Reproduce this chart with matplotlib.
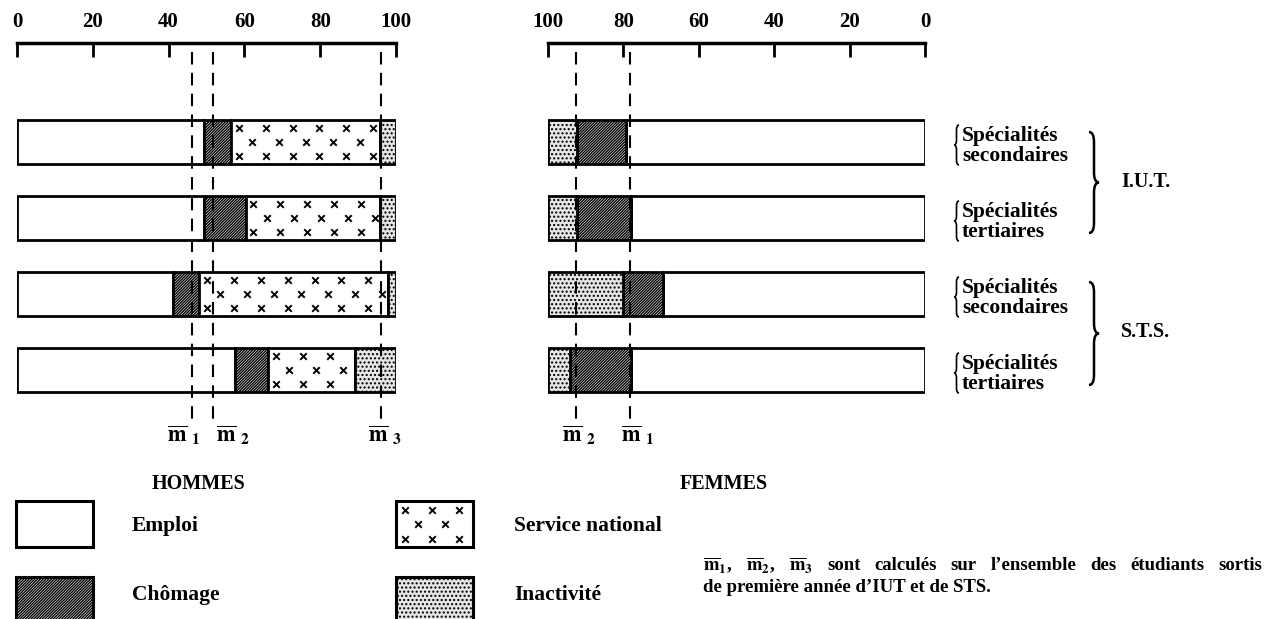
import numpy as np
import matplotlib
matplotlib.use("Agg")
import matplotlib.pyplot as plt
from matplotlib.patches import Rectangle, PathPatch
from matplotlib.path import Path

# Données (en %)
lignes = ["IUT secondaires", "IUT tertiaires", "STS secondaires", "STS tertiaires"]
h_emploi = [49.3, 49.3, 41.1, 57.5]
h_chomage = [7.2, 11.1, 7.0, 8.8]
h_service = [39.3, 35.4, 49.9, 22.9]
h_inactivite = [4.2, 4.2, 2.0, 10.8]
f_emploi = [79.4, 77.9, 69.6, 77.9]
f_chomage = [12.8, 14.3, 10.5, 16.3]
f_inactivite = [7.8, 7.8, 19.9, 5.8]
h_moyennes = [46.1, 51.8, 96.0]  # m1, m2, m3 hommes
f_moyennes = [78.3, 92.5]        # m1, m2 femmes
graduations = [0, 20, 40, 60, 80, 100]
specialites = ["Spécialités\nsecondaires", "Spécialités\ntertiaires",
               "Spécialités\nsecondaires", "Spécialités\ntertiaires"]

plt.rcParams["font.family"] = ["Liberation Serif", "DejaVu Serif"]
plt.rcParams["font.weight"] = "bold"
plt.rcParams["mathtext.fontset"] = "stix"
plt.rcParams["hatch.linewidth"] = 1.0

W, H = 1266, 619
fig = plt.figure(figsize=(W / 100, H / 100), dpi=100)

# axe de fond en pixels pour le texte, les accolades et la légende
ax_o = fig.add_axes([0, 0, 1, 1])
ax_o.set_xlim(0, W)
ax_o.set_ylim(H, 0)
ax_o.axis("off")

y = np.arange(len(lignes))
haut = 0.59
y_lim = (3.921, -1.303)
HACH = "/" * 12
POINTS = "...."


def croix(ax, patch, x0, x1, y0, pas):
    # petites croix "service national" découpées dans la barre
    xs, ys = [], []
    for k, dy in enumerate([-0.18, 0, 0.18]):
        decal = pas / 2 if k == 1 else 0
        for xx in np.arange(x0 + 2 + decal, x1, pas):
            xs.append(xx)
            ys.append(y0 + dy)
    sc = ax.scatter(xs, ys, marker="x", s=22, c="black", linewidths=1.4, zorder=3)
    sc.set_clip_path(patch)


def preparer(ax, inverse=False):
    ax.set_xlim(100, 0) if inverse else ax.set_xlim(0, 100)
    ax.set_ylim(*y_lim)
    ax.patch.set_visible(False)
    for s in ["left", "right", "bottom"]:
        ax.spines[s].set_visible(False)
    ax.spines["top"].set_linewidth(2.5)
    ax.set_xticks(graduations)
    ax.set_yticks([])
    ax.tick_params(axis="x", top=True, bottom=False, labeltop=True, labelbottom=False,
                   direction="in", length=10, width=2, pad=8, labelsize=15)


def barre(ax, gauche, largeur, style):
    kw = dict(height=haut, left=gauche, edgecolor="black", linewidth=2, zorder=2)
    if style == "chomage":
        return ax.barh(y, largeur, facecolor="white", hatch=HACH, **kw)
    if style == "inactivite":
        return ax.barh(y, largeur, facecolor="#e6e6e6", hatch=POINTS, **kw)
    return ax.barh(y, largeur, facecolor="white", **kw)


def pointilles(ax, valeurs, noms, decalages):
    ax.vlines(valeurs, -1.18, 3.72, colors="black", linestyles=(0, (6, 4)),
              linewidth=1.5, zorder=5)
    for v, n, d in zip(valeurs, noms, decalages):
        ax.annotate(r"$\overline{\mathrm{m}}\ _{%s}$" % n, (v, 3.86), xytext=(d, 0),
                    textcoords="offset points", ha="center", va="center", fontsize=16)


# HOMMES
ax_h = fig.add_axes([17 / W, 1 - 440 / H, 379 / W, 397 / H])
preparer(ax_h)
g = 0
barre(ax_h, g, h_emploi, "emploi")
g = np.array(h_emploi)
barre(ax_h, g, h_chomage, "chomage")
g = g + np.array(h_chomage)
sn = barre(ax_h, g, h_service, "service")
for i, p in enumerate(sn):
    croix(ax_h, p, g[i], g[i] + h_service[i], y[i], 7.1)
g = g + np.array(h_service)
barre(ax_h, g, h_inactivite, "inactivite")
pointilles(ax_h, h_moyennes, ["1", "2", "3"], [-6, 14, 3])

# FEMMES (axe inversé)
ax_f = fig.add_axes([548 / W, 1 - 440 / H, 377 / W, 397 / H])
preparer(ax_f, inverse=True)
barre(ax_f, 0, f_emploi, "emploi")
g = np.array(f_emploi)
barre(ax_f, g, f_chomage, "chomage")
g = g + np.array(f_chomage)
barre(ax_f, g, f_inactivite, "inactivite")
pointilles(ax_f, f_moyennes, ["1", "2"], [6, 2])

ax_o.text(199, 484, "HOMMES", ha="center", va="center", fontsize=14.5)
ax_o.text(724, 484, "FEMMES", ha="center", va="center", fontsize=14.5)


def accolade(x, y0, y1, w, lw):
    ym = (y0 + y1) / 2
    q = min(abs(w), (y1 - y0) / 6)
    verts = [(x, y0), (x + w / 2, y0), (x + w / 2, y0 + q), (x + w / 2, ym - q),
             (x + w / 2, ym), (x + w, ym), (x + w / 2, ym), (x + w / 2, ym + q),
             (x + w / 2, y1 - q), (x + w / 2, y1), (x, y1)]
    codes = [Path.MOVETO, Path.CURVE3, Path.CURVE3, Path.LINETO, Path.CURVE3, Path.CURVE3,
             Path.CURVE3, Path.CURVE3, Path.LINETO, Path.CURVE3, Path.CURVE3]
    ax_o.add_patch(PathPatch(Path(verts, codes), fill=False, lw=lw, edgecolor="black"))


# libellés à droite
centres = [142, 218, 294, 370]
for c, t in zip(centres, specialites):
    accolade(959, c - 17, c + 23, -5, 1.2)
    ax_o.text(962, c + 4, t, ha="left", va="center", fontsize=15.5, linespacing=1.05)
accolade(1089, 132, 233, 10, 1.8)
accolade(1089, 282, 385, 10, 1.8)
ax_o.text(1121, 182, "I.U.T.", ha="left", va="center", fontsize=14.5)
ax_o.text(1121, 332, "S.T.S.", ha="left", va="center", fontsize=14.5)

# légende
ax_o.add_patch(Rectangle((16, 501), 77, 46, facecolor="white", edgecolor="black", lw=2.2))
ax_o.add_patch(Rectangle((16, 577), 77, 46, facecolor="white", edgecolor="black",
                         lw=2.2, hatch=HACH))
r_sn = Rectangle((396, 501), 77, 46, facecolor="white", edgecolor="black", lw=2.2)
ax_o.add_patch(r_sn)
sc = ax_o.scatter([405, 432, 459, 418, 445, 405, 432, 459],
                  [510, 510, 510, 524, 524, 539, 539, 539],
                  marker="x", s=22, c="black", linewidths=1.4)
sc.set_clip_path(r_sn)
ax_o.add_patch(Rectangle((396, 577), 77, 46, facecolor="#e6e6e6", edgecolor="black",
                         lw=2.2, hatch=POINTS))
ax_o.text(132, 526, "Emploi", ha="left", va="center", fontsize=15.5)
ax_o.text(132, 595, "Chômage", ha="left", va="center", fontsize=15.5)
ax_o.text(514, 526, "Service national", ha="left", va="center", fontsize=15.5)
ax_o.text(514, 595, "Inactivité", ha="left", va="center", fontsize=15.5)

# note en bas à droite, première ligne justifiée
mots = [r"$\overline{\mathrm{m}}_1$,", r"$\overline{\mathrm{m}}_2$,", r"$\overline{\mathrm{m}}_3$",
        "sont", "calculés", "sur", "l’ensemble", "des", "étudiants", "sortis"]
objs = [ax_o.text(0, 566, m, ha="left", va="center", fontsize=13.5) for m in mots]
rend = fig.canvas.get_renderer()
larg = [o.get_window_extent(rend).width for o in objs]
ecart = (1262 - 703 - sum(larg)) / (len(mots) - 1)
x = 703
for o, w in zip(objs, larg):
    o.set_x(x)
    x += w + ecart
ax_o.text(703, 587, "de première année d’IUT et de STS.", ha="left", va="center", fontsize=13.5)

fig.savefig("out.png", dpi=100)
